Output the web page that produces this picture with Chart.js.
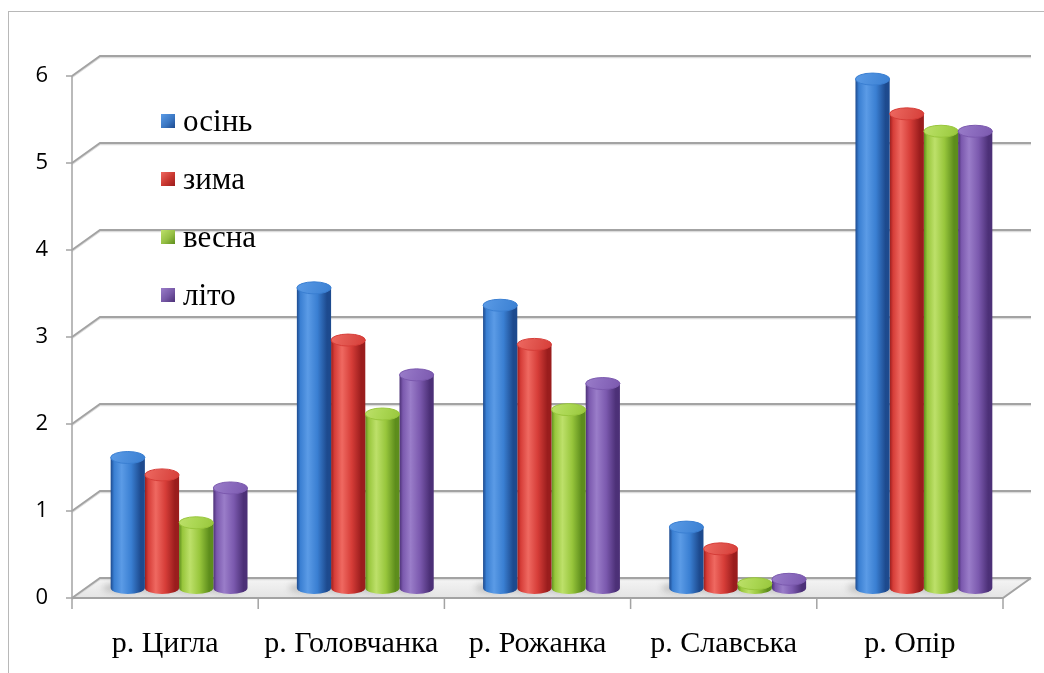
<!DOCTYPE html>
<html>
<head>
<meta charset="utf-8">
<script src="https://cdn.jsdelivr.net/npm/chart.js@4.4.1/dist/chart.umd.min.js"></script>
<style>
  html, body { margin: 0; padding: 0; background: #fff; overflow: hidden; }
  #wrap { position: relative; width: 1044px; height: 673px; }
  #frame { position: absolute; left: 8px; top: 11px; width: 1100px; height: 720px;
           border: 1.5px solid #b8b8b8; box-sizing: border-box; }
  #c { position: absolute; left: 0; top: 0; }
  #legend { position: absolute; left: 161px; top: 92px; font-family: "Liberation Serif", serif;
            font-size: 31px; color: #000; }
  #legend .row { height: 58px; display: flex; align-items: center; }
  #legend .sw { width: 14px; height: 14px; margin-right: 8px; }
</style>
</head>
<body>
<div id="wrap">
  <div id="frame"></div>
  <canvas id="c" width="1044" height="673"></canvas>
  <div id="legend"></div>
</div>
<script>
// Rivers and seasonal values
const rivers  = ['р. Цигла', 'р. Головчанка', 'р. Рожанка', 'р. Славська', 'р. Опір'];
const seasons = ['осінь', 'зима', 'весна', 'літо'];
const autumn  = [1.5, 3.45, 3.25, 0.7, 5.85];
const winter  = [1.3, 2.85, 2.8, 0.45, 5.45];
const spring  = [0.75, 2.0, 2.05, 0.05, 5.25];
const summer  = [1.15, 2.45, 2.35, 0.1, 5.25];
const yTicks  = [0, 1, 2, 3, 4, 5, 6];

// Cylinder shading: dark edge, mid body, highlight
const palettes = [
  { dark: '#1d4a8e', mid: '#3a7fd2', light: '#5b9be6', cap: '#4a8ddc', swatch: '#3b78c4' },
  { dark: '#9a1d1d', mid: '#d63d38', light: '#ef6961', cap: '#e0544d', swatch: '#c8362f' },
  { dark: '#5d8d1c', mid: '#98c63c', light: '#bde06a', cap: '#aad652', swatch: '#95bf44' },
  { dark: '#4c3077', mid: '#7b59ae', light: '#9a7dc9', cap: '#8a6abd', swatch: '#7658a6' }
];

// Half of the 3D depth: front plane is (-DX,+DY) from the bar plane, back wall (+DX,-DY)
const DX = 14, DY = 10;

function bodyShade(ctx, el, p) {
  const x0 = el.x - el.width / 2, x1 = el.x + el.width / 2;
  const g = ctx.createLinearGradient(x0, 0, x1, 0);
  g.addColorStop(0, p.dark);
  g.addColorStop(0.1, p.mid);
  g.addColorStop(0.32, p.light);
  g.addColorStop(0.6, p.mid);
  g.addColorStop(0.88, p.dark);
  g.addColorStop(1, p.dark);
  return g;
}

const room = {
  id: 'room',
  beforeDatasetsDraw(chart) {
    const ctx = chart.ctx, ys = chart.scales.y, xs = chart.scales.x;
    const L = chart.chartArea.left, R = chart.chartArea.right;
    const y0 = ys.getPixelForValue(0);
    ctx.save();
    // floor
    const fg = ctx.createLinearGradient(0, y0 - DY, 0, y0 + DY);
    fg.addColorStop(0, '#f5f5f5');
    fg.addColorStop(1, '#e4e4e4');
    ctx.fillStyle = fg;
    ctx.beginPath();
    ctx.moveTo(L - DX, y0 + DY); ctx.lineTo(R - DX, y0 + DY);
    ctx.lineTo(R + DX, y0 - DY); ctx.lineTo(L + DX, y0 - DY); ctx.closePath();
    ctx.fill();
    // back wall gridlines with side-wall diagonals
    yTicks.forEach(v => {
      const y = ys.getPixelForValue(v);
      ctx.strokeStyle = '#dcdcdc'; ctx.lineWidth = 1.5;
      ctx.beginPath();
      ctx.moveTo(L - DX, y + DY + 1.5); ctx.lineTo(L + DX, y - DY + 1.5); ctx.lineTo(R + DX, y - DY + 1.5);
      ctx.stroke();
      ctx.strokeStyle = '#a3a3a3'; ctx.lineWidth = 2;
      ctx.beginPath();
      ctx.moveTo(L - DX, y + DY); ctx.lineTo(L + DX, y - DY); ctx.lineTo(R + DX, y - DY);
      ctx.stroke();
      // tick mark on the front value axis
      ctx.lineWidth = 1.5;
      ctx.beginPath(); ctx.moveTo(L - DX - 6, y + DY); ctx.lineTo(L - DX, y + DY); ctx.stroke();
    });
    // front value axis
    ctx.strokeStyle = '#a3a3a3'; ctx.lineWidth = 1.5;
    ctx.beginPath();
    ctx.moveTo(L - DX, ys.getPixelForValue(yTicks[yTicks.length - 1]) + DY);
    ctx.lineTo(L - DX, y0 + DY);
    ctx.stroke();
    // front floor edge and right side edge
    ctx.lineWidth = 2;
    ctx.beginPath();
    ctx.moveTo(L - DX, y0 + DY); ctx.lineTo(R - DX, y0 + DY); ctx.lineTo(R + DX, y0 - DY);
    ctx.stroke();
    // category boundary ticks
    const cw = xs.getPixelForValue(1) - xs.getPixelForValue(0);
    ctx.lineWidth = 1.5;
    for (let i = 0; i <= rivers.length; i++) {
      const x = xs.getPixelForValue(0) - cw / 2 + i * cw - DX;
      ctx.beginPath(); ctx.moveTo(x, y0 + DY); ctx.lineTo(x, y0 + DY + 11); ctx.stroke();
    }
    // soft floor shadows beneath the cylinders
    ctx.filter = 'blur(3px)';
    ctx.fillStyle = 'rgba(90,90,90,0.3)';
    chart.data.datasets.forEach((ds, di) => {
      chart.getDatasetMeta(di).data.forEach(el => {
        ctx.beginPath();
        ctx.ellipse(el.x - 6, el.base, el.width / 2 + 2, 5, 0, 0, Math.PI * 2);
        ctx.fill();
      });
    });
    ctx.filter = 'none';
    ctx.restore();

    // horizontal shading for each cylinder body (options are per element)
    chart.data.datasets.forEach((ds, di) => {
      chart.getDatasetMeta(di).data.forEach(el => {
        el._shade = bodyShade(ctx, el, palettes[di]);
        el.options.backgroundColor = el._shade;
      });
    });
  },
  afterDatasetsDraw(chart) {
    const ctx = chart.ctx;
    ctx.save();
    chart.data.datasets.forEach((ds, di) => {
      const p = palettes[di];
      chart.getDatasetMeta(di).data.forEach(el => {
        const rx = el.width / 2, ry = 6;
        // rounded bottom
        ctx.fillStyle = el._shade;
        ctx.beginPath();
        ctx.ellipse(el.x, el.base, rx, ry, 0, 0, Math.PI);
        ctx.fill();
        // top cap
        const cg = ctx.createLinearGradient(el.x - rx, el.y - ry, el.x + rx, el.y + ry);
        cg.addColorStop(0, p.light);
        cg.addColorStop(0.5, p.cap);
        cg.addColorStop(1, p.mid);
        ctx.fillStyle = cg;
        ctx.beginPath();
        ctx.ellipse(el.x, el.y, rx, ry, 0, 0, Math.PI * 2);
        ctx.fill();
        ctx.strokeStyle = p.mid; ctx.lineWidth = 1;
        ctx.stroke();
      });
    });
    ctx.restore();
  }
};

const series = [autumn, winter, spring, summer];
const chart = new Chart(document.getElementById('c'), {
  type: 'bar',
  data: {
    labels: rivers,
    datasets: seasons.map((s, i) => ({
      label: s,
      data: series[i],
      // scriptable so every bar keeps its own options object
      backgroundColor: c => palettes[c.datasetIndex].mid,
      borderWidth: 0,
      categoryPercentage: 0.735,
      barPercentage: 1.0
    }))
  },
  options: {
    responsive: false,
    animation: false,
    devicePixelRatio: 1,
    layout: { padding: { top: 66, right: 27, left: 0, bottom: 0 } },
    plugins: { legend: { display: false }, tooltip: { enabled: false } },
    scales: {
      x: {
        grid: { display: false, drawTicks: false },
        border: { display: false },
        ticks: { color: '#000', font: { family: 'Liberation Serif', size: 30 },
                 padding: 38, labelOffset: -DX, maxRotation: 0, autoSkip: false },
        afterFit: s => { s.height = 85; }
      },
      y: {
        min: yTicks[0], max: yTicks[yTicks.length - 1],
        grid: { display: false, drawTicks: false },
        border: { display: false },
        ticks: { stepSize: 1, color: '#000', font: { family: 'Open Sans', size: 22 },
                 padding: 38, labelOffset: DY },
        afterFit: s => { s.width = 86; }
      }
    }
  },
  plugins: [room]
});

// Legend built from the chart's datasets
const leg = document.getElementById('legend');
chart.data.datasets.forEach((ds, i) => {
  const row = document.createElement('div');
  row.className = 'row';
  const sw = document.createElement('span');
  sw.className = 'sw';
  sw.style.background = 'linear-gradient(135deg,' + palettes[i].light + ',' + palettes[i].swatch + ' 55%,' + palettes[i].dark + ')';
  const tx = document.createElement('span');
  tx.textContent = ds.label;
  row.appendChild(sw); row.appendChild(tx);
  leg.appendChild(row);
});
</script>
</body>
</html>
